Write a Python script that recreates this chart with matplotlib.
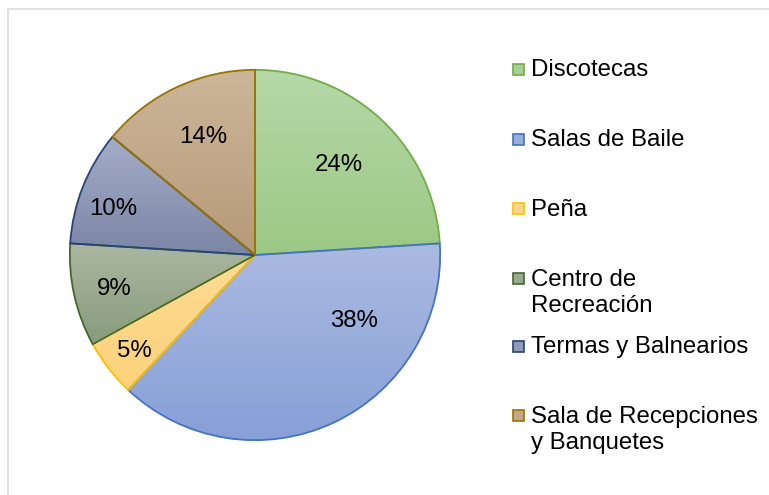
import matplotlib
matplotlib.use("Agg")
import matplotlib.pyplot as plt
from matplotlib.patches import Rectangle
from matplotlib.colors import to_rgb
import numpy as np

plt.rcParams['font.family'] = ['Liberation Sans', 'DejaVu Sans']

# data
categories = ["Discotecas", "Salas de Baile", "Peña", "Centro de\nRecreación",
              "Termas y Balnearios", "Sala de Recepciones\ny Banquetes"]
shares = [24, 38, 5, 9, 10, 14]

# gradient (top, bottom) and edge colours per slice
top_colors = ["#b6d8a9", "#abbae1", "#ffdb93", "#abb7a1", "#a5adc7", "#ccb699"]
bottom_colors = ["#9cc884", "#87a0d7", "#fdd27a", "#889b7c", "#7b85a5", "#b69a78"]
edge_colors = ["#70ad47", "#4472c4", "#ffc000", "#43682b", "#264478", "#997300"]

# label positions inside the pie (radius units), as Excel placed them
label_pos = [(0.455, 0.487), (0.535, -0.358), (-0.652, -0.518),
             (-0.759, -0.181), (-0.765, 0.247), (-0.278, 0.637)]

W, H = 769, 495
FS = 17.3
fig = plt.figure(figsize=(W / 100, H / 100), dpi=100)

# chart area border
fig.add_artist(Rectangle((8 / W, -0.1), 1.2, (H - 8.5) / H + 0.1,
                         transform=fig.transFigure, fill=False,
                         edgecolor="#d9d9d9", linewidth=1.1))

cx, cy, r = 255, 255, 187
ax = fig.add_axes([(cx - r) / W, (H - cy - r) / H, 2 * r / W, 2 * r / H])

wedges, _ = ax.pie(shares, startangle=90, counterclock=False, radius=1,
                   wedgeprops=dict(linewidth=1.3))

for i, w in enumerate(wedges):
    w.set_facecolor("none")
    w.set_edgecolor(edge_colors[i])
    w.set_zorder(3 + i)
    bb = w.get_path().get_extents(w.get_patch_transform())
    c0 = np.array(to_rgb(top_colors[i]))
    c1 = np.array(to_rgb(bottom_colors[i]))
    t = np.linspace(0, 1, 200)[:, None]
    grad = (c0 * (1 - t) + c1 * t)[:, None, :]
    im = ax.imshow(grad, extent=(bb.x0, bb.x1, bb.y0, bb.y1), origin="upper",
                   aspect="auto", zorder=1, interpolation="bilinear")
    im.set_clip_path(w)

for (x, y), v in zip(label_pos, shares):
    ax.text(x, y, f"{v}%", ha="center", va="center", fontsize=FS,
            color="#000000", zorder=20)

ax.set_xlim(-1.01, 1.01)
ax.set_ylim(-1.01, 1.01)
ax.set_aspect("equal")
ax.axis("off")

# legend drawn by hand to keep Excel's spacing
row_y = [69, 139, 208, 278, 346, 415]
for i, (lab, y) in enumerate(zip(categories, row_y)):
    mid = (np.array(to_rgb(top_colors[i])) + np.array(to_rgb(bottom_colors[i]))) / 2
    fig.add_artist(Rectangle((513 / W, (H - y - 6) / H), 11 / W, 11 / H,
                             transform=fig.transFigure,
                             facecolor=mid, edgecolor=edge_colors[i],
                             linewidth=1.2))
    fig.text(531 / W, (H - y - 1.5) / H, lab.split("\n")[0], ha="left",
             va="center", fontsize=FS, color="#000000")
    if "\n" in lab:
        fig.text(531 / W, (H - y - 27.5) / H, lab.split("\n")[1], ha="left",
                 va="center", fontsize=FS, color="#000000")

fig.savefig("out.png", dpi=100)
